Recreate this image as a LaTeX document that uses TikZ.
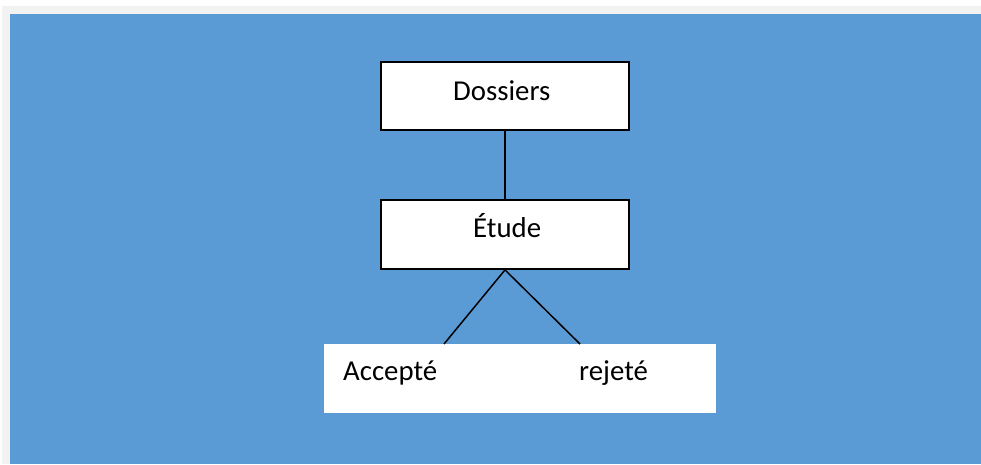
\documentclass[tikz,border=0pt]{standalone}
\usepackage{fontspec}
\setmainfont{Carlito}
\definecolor{panelblue}{HTML}{5B9BD5}
\definecolor{framegrey}{HTML}{F2F2F2}
\begin{document}
\begin{tikzpicture}[x=1pt,y=-1pt,
  box/.style={draw=black,line width=1.8pt,fill=white,inner sep=0pt},
  label/.style={inner sep=0pt,anchor=base west,font=\fontsize{28.8}{32}\selectfont},
  link/.style={draw=black,line width=1.5pt}]
  \useasboundingbox (0,0) rectangle (981,464);
  \fill[white] (0,0) rectangle (981,464);
  \fill[framegrey] (2,6) rectangle (981,464);
  \fill[panelblue] (9.5,14) rectangle (981,464);
  % boxes
  \node[box,minimum width=248pt,minimum height=68pt] (dossiers) at (505,96) {};
  \node[box,minimum width=248pt,minimum height=69pt] (etude) at (505,234.5) {};
  \node[fill=white,inner sep=0pt,minimum width=392pt,minimum height=69pt] (issue) at (520,378.5) {};
  % texts
  \node[label] (tdossiers) at (453,100) {Dossiers};
  \node[label] (tetude) at (473,237) {Étude};
  \node[label] (taccepte) at (343,380) {Accepté};
  \node[label] (trejete) at (579,380) {rejeté};
  % connectors
  \coordinate (la) at (444,344);
  \coordinate (lr) at (580,344);
  \draw[link] (dossiers.south) -- (etude.north);
  \draw[link] (etude.south) -- (la);
  \draw[link] (etude.south) -- (lr);
\end{tikzpicture}
\end{document}
